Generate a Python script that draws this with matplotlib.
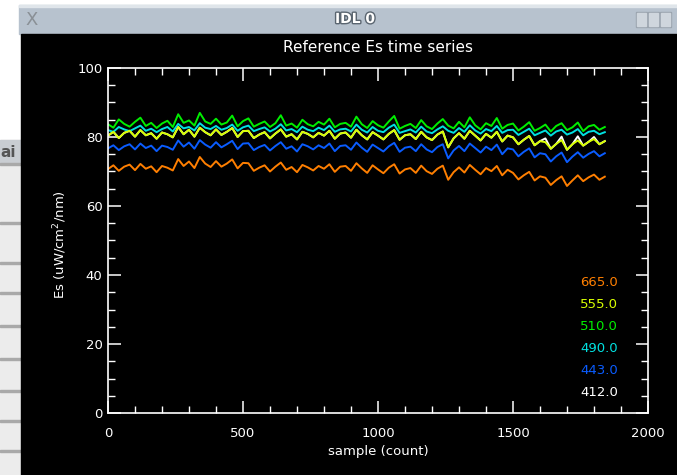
import matplotlib
matplotlib.use("Agg")
import matplotlib.pyplot as plt
import matplotlib.patches as mpatches
import matplotlib.patheffects as pe
import numpy as np

# sample index of each reading (one every 20 samples)
samples = np.arange(0, 1860, 20)

es_412 = [80.4, 81.5, 79.7, 81.2, 81.8, 80.1, 82.0, 80.5, 81.1, 79.5,
          81.3, 80.8, 79.9, 82.9, 80.8, 82.1, 80.1, 82.7, 81.4, 80.5,
          82.2, 80.6, 81.5, 82.6, 80.0, 81.7, 81.8, 79.7, 80.7, 81.4,
          79.6, 81.0, 82.2, 80.1, 80.8, 79.3, 81.5, 80.9, 79.9, 81.2,
          80.4, 81.8, 79.5, 81.0, 81.3, 79.8, 82.1, 80.5, 79.3, 81.4,
          80.4, 79.3, 80.9, 82.0, 79.2, 80.5, 80.8, 79.4, 81.5, 79.9,
          79.1, 80.7, 81.6, 77.0, 79.6, 81.1, 79.5, 81.8, 80.4, 79.0,
          80.9, 79.8, 81.5, 78.7, 80.4, 79.9, 77.9, 79.2, 80.3, 77.6,
          78.8, 79.6, 76.6, 78.0, 80.1, 76.3, 77.9, 80.2, 77.5, 78.6,
          80.0, 77.9, 78.8]

es_443 = [76.7, 77.6, 76.2, 77.3, 77.9, 76.4, 78.1, 76.8, 77.5, 75.9,
          77.5, 77.1, 76.3, 79.0, 77.2, 78.4, 76.6, 79.1, 77.8, 76.9,
          78.5, 77.0, 77.9, 78.9, 76.5, 78.1, 78.2, 76.2, 77.1, 77.7,
          76.1, 77.4, 78.5, 76.6, 77.3, 75.8, 77.9, 77.3, 76.4, 77.6,
          76.8, 78.1, 75.9, 77.4, 77.6, 76.3, 78.4, 76.9, 75.7, 77.8,
          76.8, 75.8, 77.3, 78.3, 75.7, 76.9, 77.2, 75.9, 77.9, 76.4,
          75.6, 77.1, 77.9, 73.8, 76.1, 77.4, 75.9, 78.1, 76.8, 75.5,
          77.2, 76.2, 77.8, 75.0, 76.7, 76.4, 74.4, 75.7, 76.7, 74.1,
          75.3, 75.0, 72.9, 74.4, 75.5, 72.7, 74.3, 75.6, 74.0, 75.1,
          75.9, 74.4, 75.3]

es_490 = [82.0, 81.5, 82.9, 82.2, 81.7, 82.5, 83.3, 81.8, 82.4, 81.4,
          82.3, 82.9, 81.6, 83.8, 82.5, 82.9, 81.9, 84.0, 82.7, 82.3,
          83.2, 82.1, 82.6, 83.6, 81.8, 82.8, 83.3, 81.7, 82.3, 82.8,
          81.6, 82.4, 83.7, 81.9, 82.3, 81.4, 83.0, 82.1, 81.7, 82.7,
          82.0, 83.3, 81.5, 82.2, 82.4, 81.6, 83.6, 82.1, 81.3, 82.9,
          81.8, 81.4, 82.7, 83.6, 81.2, 81.7, 82.2, 81.3, 83.0, 81.6,
          81.1, 82.2, 83.1, 81.8, 81.2, 82.6, 81.5, 83.4, 81.9, 81.0,
          82.3, 81.7, 83.2, 81.2, 82.0, 82.1, 80.6, 81.5, 82.4, 80.5,
          81.2, 81.9, 80.4, 81.6, 82.1, 80.7, 81.3, 82.3, 80.5, 81.5,
          81.8, 80.8, 81.4]

es_510 = [83.7, 82.7, 85.1, 83.8, 83.0, 84.4, 85.6, 83.2, 84.1, 82.6,
          83.9, 84.7, 82.9, 86.6, 84.1, 84.8, 83.3, 87.0, 84.5, 83.8,
          85.3, 83.6, 84.2, 86.2, 83.1, 84.6, 85.4, 83.0, 83.8, 84.5,
          82.9, 84.0, 86.3, 83.3, 83.9, 82.7, 85.0, 83.7, 83.1, 84.4,
          83.6, 85.3, 82.8, 83.8, 84.1, 83.0, 85.9, 83.7, 82.6, 84.6,
          83.4, 82.7, 84.5, 86.1, 82.4, 83.2, 83.8, 82.6, 84.9, 83.1,
          82.3, 83.9, 85.2, 83.3, 82.5, 84.4, 82.8, 85.7, 83.4, 82.2,
          84.0, 83.2, 85.5, 82.4, 83.5, 83.9, 81.9, 83.0, 84.3, 81.8,
          82.6, 83.6, 81.6, 83.2, 84.0, 82.0, 82.8, 84.2, 81.7, 83.1,
          83.5, 82.1, 82.9]

es_555 = [80.4, 81.5, 79.7, 81.2, 81.8, 80.1, 82.0, 80.5, 81.1, 79.5,
          81.3, 80.8, 79.9, 82.9, 80.8, 82.1, 80.1, 82.7, 81.4, 80.5,
          82.2, 80.6, 81.5, 82.6, 80.0, 81.7, 81.8, 79.7, 80.7, 81.4,
          79.6, 81.0, 82.2, 80.1, 80.8, 79.3, 81.5, 80.9, 79.9, 81.2,
          80.4, 81.8, 79.5, 81.0, 81.3, 79.8, 82.1, 80.5, 79.3, 81.4,
          80.4, 79.3, 80.9, 82.0, 79.2, 80.5, 80.8, 79.4, 81.5, 79.9,
          79.1, 80.7, 81.6, 77.0, 79.6, 81.1, 79.5, 81.8, 80.4, 79.0,
          80.9, 79.8, 81.5, 78.7, 80.4, 79.9, 77.9, 79.2, 80.3, 77.6,
          78.8, 78.5, 76.6, 78.0, 79.1, 76.3, 77.9, 79.0, 77.5, 78.6,
          79.4, 77.9, 78.8]

es_665 = [70.7, 71.8, 70.2, 71.4, 72.0, 70.4, 72.2, 70.8, 71.5, 69.8,
          71.6, 71.1, 70.3, 73.6, 71.6, 72.9, 71.0, 74.2, 72.3, 71.3,
          73.0, 71.4, 72.3, 73.5, 70.9, 72.5, 72.4, 70.2, 71.1, 71.8,
          70.0, 71.4, 72.6, 70.5, 71.3, 69.8, 71.9, 71.2, 70.3, 71.6,
          70.8, 72.1, 69.9, 71.4, 71.6, 70.2, 72.4, 70.9, 69.6, 71.8,
          70.6, 69.5, 71.1, 72.1, 69.4, 70.6, 71.0, 69.6, 71.7, 70.1,
          69.3, 70.8, 71.7, 67.6, 69.8, 71.2, 69.7, 71.9, 70.5, 69.2,
          71.0, 70.1, 71.6, 68.9, 70.5, 69.6, 67.7, 68.9, 69.9, 67.4,
          68.6, 68.2, 66.1, 67.5, 68.6, 65.8, 67.4, 68.9, 67.2, 68.3,
          69.1, 67.6, 68.5]

wavelengths = ["412.0", "443.0", "490.0", "510.0", "555.0", "665.0"]
series = [es_412, es_443, es_490, es_510, es_555, es_665]
colors = ["#ffffff", "#0a5cff", "#00e0e0", "#00ee00", "#d8ff00", "#ff7f00"]

fig = plt.figure(figsize=(6.77, 4.75), dpi=100)
fig.patch.set_facecolor("white")

# desktop / window chrome
W, H = 677.0, 475.0
def px_rect(x0, y0, x1, y1, color, z=-10):
    fig.patches.append(mpatches.Rectangle((x0 / W, 1 - y1 / H), (x1 - x0) / W, (y1 - y0) / H,
                                          transform=fig.transFigure, color=color, zorder=z))

px_rect(0, 140, 21, 475, "#ececec")
px_rect(0, 140, 21, 163, "#c9cdd2")
for yy in [163, 222, 262, 292, 325, 358, 390, 420, 450]:
    px_rect(0, yy, 21, yy + 2, "#a9a9a9")
fig.text(0.5 / W, 1 - 152 / H, "ai", fontsize=11, fontweight="bold", color="#555555", va="center")
px_rect(19, 5, 677, 34, "#b7c2ce")
px_rect(19, 5, 677, 7, "#dfe5ea")
px_rect(21, 34, 677, 475, "black")
fig.text(32 / W, 1 - 20 / H, "X", fontsize=13, color="#8a9096", ha="center", va="center")
fig.text(355 / W, 1 - 19 / H, "IDL 0", fontsize=10, fontweight="bold", color="white",
         ha="center", va="center",
         path_effects=[pe.withStroke(linewidth=2, foreground="#5a6570")])
for bx in [636, 648, 660]:
    px_rect(bx, 12, bx + 11, 27, "#9aa4ae")
    px_rect(bx + 1, 13, bx + 10, 26, "#cfd6dd")

ax = fig.add_axes([108 / W, 1 - 413 / H, 540 / W, 345 / H])
ax.set_facecolor("black")

for vals, col in zip(series, colors):
    ax.plot(samples, vals, color=col, linewidth=1.4)

ax.set_xlim(0, 2000)
ax.set_ylim(0, 100)
ax.set_xticks(np.arange(0, 2001, 500))
ax.set_xticks(np.arange(0, 2001, 100), minor=True)
ax.set_yticks(np.arange(0, 101, 20))
ax.set_yticks(np.arange(0, 101, 5), minor=True)
for s in ax.spines.values():
    s.set_color("white")
    s.set_linewidth(1.2)
ax.tick_params(which="both", direction="in", colors="white", top=True, right=True,
               labelsize=9.5)
ax.tick_params(which="major", length=9, width=1.1)
ax.tick_params(which="minor", length=5, width=1.0)
ax.tick_params(axis="x", pad=10)
ax.tick_params(axis="y", pad=4)

fig.text(378 / W, 1 - 48 / H, "Reference Es time series", color="white", fontsize=11,
         ha="center", va="center")
fig.text(378 / W, 1 - 452 / H, "sample (count)", color="white", fontsize=9.5,
         ha="center", va="center")
fig.text(60 / W, 1 - 245 / H, "Es (uW/cm$^2$/nm)", color="white", fontsize=9.5,
         ha="center", va="center", rotation=90)

# wavelength labels, bottom-right
for k, (lab, col) in enumerate(zip(wavelengths, colors)):
    fig.text(618 / W, 1 - (392 - 22 * k) / H, lab, color=col, fontsize=9.5,
             ha="right", va="center")

fig.savefig("out.png", dpi=100, facecolor=fig.get_facecolor())
